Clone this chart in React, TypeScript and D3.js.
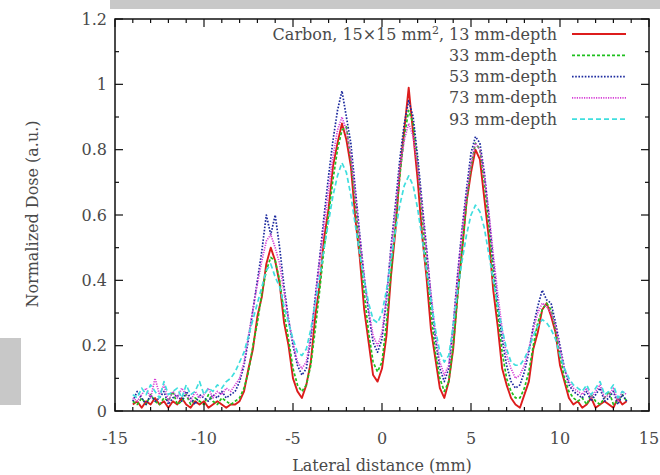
import React from "react";
import * as d3 from "d3";

// sample positions (mm), every 0.25 mm from -14 to 13.75
const xs = d3.range(0, 112).map(i => -14 + i * 0.25);

const red13 = [
  0.02,0.03,0.01,0.03,0.02,0.04,0.02,0.03,0.01,0.03,0.02,0.04,0.02,0.01,0.03,0.02,0.03,0.01,0.02,0.03,0.02,0.01,0.02,0.02,
  0.03,0.06,0.13,0.19,0.29,0.35,0.45,0.50,
  0.46,0.39,0.27,0.20,0.10,0.06,0.04,
  0.08,0.15,0.29,0.39,0.53,0.62,0.75,0.82,0.88,
  0.83,0.75,0.59,0.47,0.31,0.21,0.11,0.09,
  0.13,0.23,0.41,0.55,0.73,0.86,0.99,
  0.85,0.71,0.54,0.41,0.25,0.16,0.07,0.04,
  0.09,0.19,0.36,0.49,0.64,0.73,0.80,
  0.77,0.65,0.53,0.37,0.26,0.13,0.08,0.04,0.02,0.01,
  0.05,0.09,0.19,0.24,0.31,0.33,
  0.29,0.24,0.14,0.09,0.04,0.02,0.03,
  0.01,0.02,0.04,0.01,0.02,0.03,0.02,0.01,0.04,0.02,0.03,
];
const green33 = [
  0.03,0.02,0.04,0.02,0.05,0.03,0.02,0.04,0.03,0.06,0.02,0.03,0.05,0.02,0.04,0.03,0.02,0.05,0.03,0.02,0.04,0.03,0.02,0.03,
  0.04,0.07,0.12,0.20,0.27,0.36,0.43,0.47,
  0.46,0.40,0.30,0.22,0.13,0.08,0.06,
  0.08,0.14,0.25,0.37,0.50,0.60,0.71,0.80,0.86,
  0.87,0.77,0.64,0.50,0.36,0.24,0.15,0.12,
  0.15,0.27,0.42,0.57,0.72,0.84,0.92,
  0.88,0.76,0.60,0.45,0.30,0.18,0.10,0.06,
  0.09,0.20,0.35,0.50,0.64,0.75,0.82,
  0.80,0.70,0.57,0.42,0.30,0.18,0.10,0.06,0.04,0.04,
  0.07,0.12,0.20,0.27,0.31,0.33,
  0.31,0.25,0.17,0.10,0.06,0.04,0.03,
  0.04,0.02,0.05,0.03,0.02,0.04,0.06,0.02,0.03,0.05,0.03,
];
const blue53 = [
  0.03,0.06,0.04,0.02,0.05,0.03,0.04,0.06,0.02,0.04,0.05,0.03,0.06,0.04,0.02,0.05,0.04,0.03,0.05,0.04,0.06,0.04,0.05,0.06,
  0.09,0.14,0.22,0.31,0.40,0.49,0.60,0.54,
  0.60,0.50,0.38,0.28,0.20,0.14,0.11,
  0.13,0.22,0.35,0.47,0.60,0.72,0.83,0.92,0.98,
  0.90,0.82,0.68,0.54,0.41,0.30,0.21,0.18,
  0.22,0.34,0.50,0.63,0.77,0.88,0.95,
  0.90,0.78,0.64,0.50,0.35,0.22,0.13,0.09,
  0.13,0.26,0.42,0.56,0.68,0.79,0.84,
  0.82,0.73,0.60,0.46,0.33,0.22,0.14,0.09,0.07,0.08,
  0.12,0.18,0.26,0.32,0.37,0.34,
  0.33,0.27,0.20,0.13,0.08,0.06,0.05,
  0.04,0.06,0.03,0.05,0.07,0.03,0.04,0.06,0.02,0.05,0.03,
];
const magenta73 = [
  0.04,0.03,0.05,0.07,0.04,0.10,0.05,0.08,0.03,0.06,0.04,0.07,0.05,0.03,0.06,0.04,0.05,0.07,0.04,0.06,0.05,0.07,0.06,0.08,
  0.10,0.15,0.23,0.31,0.39,0.46,0.52,0.54,
  0.50,0.45,0.36,0.28,0.21,0.15,0.13,
  0.15,0.23,0.34,0.46,0.57,0.68,0.78,0.86,0.90,
  0.86,0.78,0.66,0.53,0.41,0.31,0.23,0.20,
  0.24,0.35,0.49,0.61,0.74,0.83,0.88,
  0.84,0.75,0.62,0.49,0.36,0.24,0.15,0.11,
  0.14,0.26,0.41,0.55,0.66,0.76,0.82,
  0.80,0.72,0.61,0.48,0.36,0.25,0.17,0.13,0.10,0.11,
  0.14,0.19,0.25,0.30,0.33,0.32,
  0.30,0.26,0.19,0.13,0.09,0.07,0.06,
  0.05,0.07,0.04,0.06,0.08,0.04,0.05,0.07,0.03,0.06,0.05,
];
const cyan93 = [
  0.05,0.04,0.07,0.05,0.08,0.06,0.04,0.09,0.05,0.06,0.07,0.04,0.08,0.05,0.06,0.09,0.05,0.07,0.06,0.08,0.07,0.09,0.10,0.12,
  0.15,0.18,0.23,0.28,0.33,0.38,0.43,0.45,
  0.41,0.38,0.32,0.27,0.22,0.18,0.17,
  0.19,0.25,0.33,0.41,0.50,0.58,0.66,0.72,0.76,
  0.73,0.66,0.57,0.48,0.40,0.33,0.28,0.27,
  0.30,0.37,0.46,0.55,0.63,0.69,0.72,
  0.69,0.62,0.53,0.43,0.34,0.25,0.18,0.15,
  0.17,0.26,0.37,0.46,0.54,0.60,0.63,
  0.61,0.56,0.48,0.40,0.32,0.25,0.19,0.15,0.14,0.14,
  0.16,0.19,0.23,0.26,0.28,0.27,
  0.25,0.22,0.17,0.13,0.10,0.08,0.07,
  0.06,0.08,0.05,0.07,0.09,0.05,0.06,0.08,0.04,0.06,0.05,
];

const seriesLabels = ["13 mm-depth", "33 mm-depth", "53 mm-depth", "73 mm-depth", "93 mm-depth"];
const xTicks = [-15, -10, -5, 0, 5, 10, 15];
const yTicks = [0, 0.2, 0.4, 0.6, 0.8, 1, 1.2];

const styles = [
  { color: "#dd1c1c", dash: "none", w: 1.9 },
  { color: "#1fbf1f", dash: "3,2", w: 1.7 },
  { color: "#1c2a9e", dash: "1.6,1.6", w: 1.7 },
  { color: "#d63fd6", dash: "1.2,1.2", w: 1.7 },
  { color: "#3fdede", dash: "5,3", w: 1.7 },
];

const serif = "'DejaVu Serif', 'Liberation Serif', serif";

export default function App() {
  const left = 115, right = 649, top = 19, bottom = 411;
  const x = d3.scaleLinear().domain([-15, 15]).range([left, right]);
  const y = d3.scaleLinear().domain([0, 1.2]).range([bottom, top]);
  const line = d3.line<number>().x((_, i) => x(xs[i])).y(d => y(d));
  const all = [red13, green33, blue53, magenta73, cyan93];

  const xMinor = d3.range(-15, 16, 1);
  const yMinor = d3.range(0, 1.21, 0.1);
  const legendX = 557;
  const legendY0 = 34, legendDy = 21.3;

  return (
    <svg width={660} height={475} style={{ position: "absolute", left: 0, top: 0, background: "#fff" }}>
      <rect x={110} y={0} width={550} height={9} fill="#c8c8c8" />
      <rect x={0} y={338} width={21} height={67} fill="#c8c8c8" />

      <g>
        {all.map((s, k) => (
          <path key={k} d={line(s) || ""} fill="none" stroke={styles[k].color}
            strokeWidth={styles[k].w} strokeDasharray={styles[k].dash} strokeLinejoin="round" />
        ))}
      </g>

      {/* frame and ticks */}
      <rect x={left} y={top} width={right - left} height={bottom - top} fill="none" stroke="#111" strokeWidth={1.5} />
      {xMinor.map(v => {
        const major = v % 5 === 0;
        const len = major ? 8 : 4;
        return (
          <g key={"xt" + v} stroke="#111" strokeWidth={1.2}>
            <line x1={x(v)} x2={x(v)} y1={bottom} y2={bottom - len} />
            <line x1={x(v)} x2={x(v)} y1={top} y2={top + len} />
          </g>
        );
      })}
      {yMinor.map((v, i) => {
        const major = i % 2 === 0;
        const len = major ? 8 : 4;
        return (
          <g key={"yt" + i} stroke="#111" strokeWidth={1.2}>
            <line x1={left} x2={left + len} y1={y(v)} y2={y(v)} />
            <line x1={right} x2={right - len} y1={y(v)} y2={y(v)} />
          </g>
        );
      })}

      <g fontFamily={serif} fontSize={16} fill="#4a4a4a">
        {xTicks.map(v => (
          <text key={"xl" + v} x={x(v)} y={444} textAnchor="middle">{v}</text>
        ))}
        {yTicks.map(v => (
          <text key={"yl" + v} x={107} y={y(v) + 5.5} textAnchor="end">{String(v)}</text>
        ))}
        <text x={382} y={471} textAnchor="middle">Lateral distance (mm)</text>
        <text transform={`translate(38,214) rotate(-90)`} textAnchor="middle">Normalized Dose (a.u.)</text>

        {seriesLabels.map((lab, k) => {
          const ly = legendY0 + k * legendDy;
          return (
            <g key={"lg" + k}>
              <text x={legendX} y={ly + 5.5} textAnchor="end">
                {k === 0 ? (
                  <>
                    {"Carbon, 15×15 mm"}
                    <tspan dy={-6} fontSize={11}>2</tspan>
                    <tspan dy={6}>{", " + lab}</tspan>
                  </>
                ) : lab}
              </text>
              <line x1={572} x2={626} y1={ly} y2={ly} stroke={styles[k].color}
                strokeWidth={styles[k].w} strokeDasharray={styles[k].dash} />
            </g>
          );
        })}
      </g>
    </svg>
  );
}
